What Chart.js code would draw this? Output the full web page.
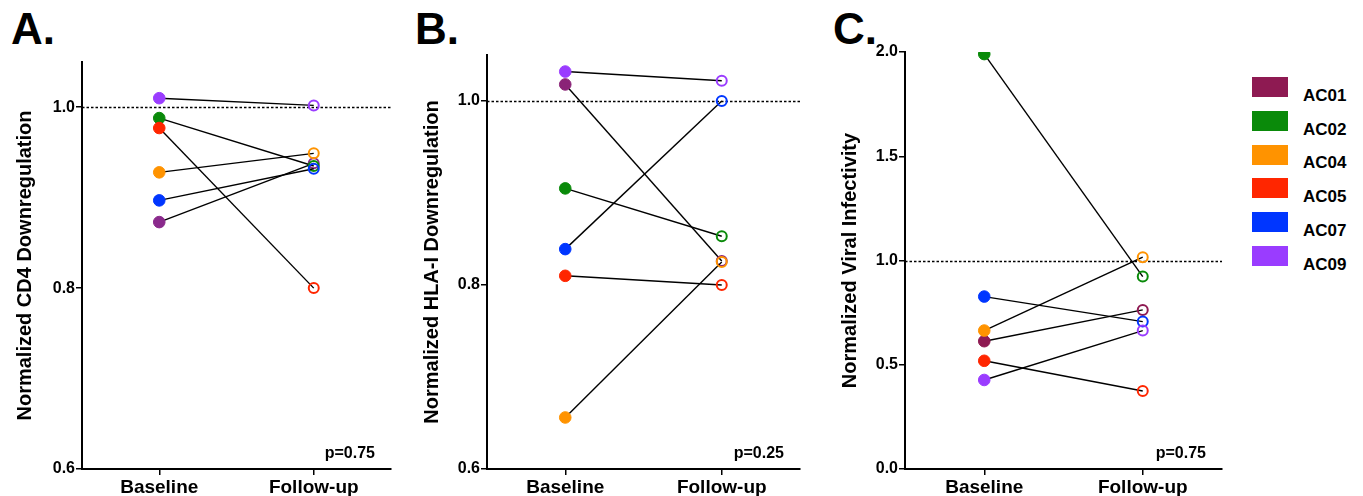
<!DOCTYPE html>
<html lang="en">
<head>
<meta charset="UTF-8">
<title>CD4 / HLA-I downregulation and viral infectivity</title>
<script src="https://cdn.jsdelivr.net/npm/chart.js"></script>
<style>
html,body{margin:0;padding:0;background:#fff;}
body{width:1363px;height:496px;position:relative;overflow:hidden;
     font-family:'Liberation Sans',Arial,Helvetica,sans-serif;color:#000;}
canvas{position:absolute;top:0;}
.tag{position:absolute;top:7px;font-weight:bold;font-size:44px;line-height:44px;}
.lg-box{position:absolute;left:1252px;width:34px;height:18px;}
.lg-txt{position:absolute;left:1303px;font-weight:bold;font-size:17px;line-height:20px;}
</style>
</head>
<body>
<div class="tag" style="left:11px">A.</div>
<div class="tag" style="left:415px">B.</div>
<div class="tag" style="left:833px">C.</div>

<canvas id="cd4"></canvas>
<canvas id="hla"></canvas>
<canvas id="viral"></canvas>
<div id="legend"></div>

<script>
/* ── data ───────────────────────────────────────────── */
const subjects   =["AC01","AC02","AC04","AC05","AC07","AC09"];
const colors     =["#8e1a52","#0a8a0a","#ff9300","#ff2600","#0036ff","#9a3cff"];
const timepoints =["Baseline","Follow-up"];

const cd4Baseline  =[0.873,0.988,0.928,0.977,0.897,1.010];
const cd4FollowUp  =[0.938,0.935,0.949,0.800,0.932,1.002];
const hlaBaseline  =[1.018,0.905,0.656,0.810,0.839,1.032];
const hlaFollowUp  =[0.826,0.853,0.825,0.800,1.000,1.022];
const viralBaseline=[0.613,1.990,0.664,0.519,0.827,0.427];
const viralFollowUp=[0.763,0.923,1.016,0.374,0.707,0.664];

const cd4Ticks  =[0.6,0.8,1.0];
const hlaTicks  =[0.6,0.8,1.0];
const viralTicks=[0.0,0.5,1.0,1.5,2.0];

const refValue=1.0;
const pValues=["p=0.75","p=0.25","p=0.75"];

/* AC01 was printed in a slightly different shade in each panel */
const shadesA=["#8a2a8c",...colors.slice(1)];
const shadesB=["#8a2377",...colors.slice(1)];
const shadesC=colors;

/* ── plugins ────────────────────────────────────────── */
const FONT="'Liberation Sans', Arial, Helvetica, sans-serif";
Chart.defaults.font.family=FONT;
Chart.defaults.font.weight="bold";
Chart.defaults.color="#000";
Chart.defaults.animation=false;

const refLine={id:"refLine",
  beforeDatasetsDraw(chart){
    const {ctx,chartArea:a,scales:{y}}=chart;
    const py=Math.round(y.getPixelForValue(refValue))+0.5;
    ctx.save();
    ctx.setLineDash([2.5,2]);
    ctx.lineWidth=1.5;ctx.strokeStyle="#000";
    ctx.beginPath();ctx.moveTo(a.left,py);ctx.lineTo(a.right,py);ctx.stroke();
    ctx.restore();
  }};

const pLabel={id:"pLabel",
  afterDraw(chart,args,opts){
    const {ctx,chartArea:a}=chart;
    ctx.save();
    ctx.font="bold 16px "+FONT;
    ctx.fillStyle="#000";ctx.textAlign="right";ctx.textBaseline="middle";
    ctx.fillText(opts.text,a.right-16,a.bottom-15);
    ctx.restore();
  }};

/* ── panels ─────────────────────────────────────────── */
function panel(id,base,follow,shades,yMin,yMax,yTicks,title,p,box){
  const cv=document.getElementById(id);
  cv.width=box.w;cv.height=496;cv.style.left=box.x+"px";

  const datasets=subjects.map((s,i)=>({
    label:s,
    data:[base[i],follow[i]],
    borderColor:"#000",borderWidth:1.4,
    pointRadius:[5.8,5],pointHoverRadius:[5.8,5],
    pointBorderWidth:[1,2],
    pointBackgroundColor:[shades[i],"rgba(0,0,0,0)"],
    pointBorderColor:shades[i],
    order:subjects.length-i
  }));

  const axisGrid={display:true,drawOnChartArea:false,drawTicks:true,tickLength:6,color:"#000",lineWidth:1.5};
  const axisBorder={display:true,color:"#000",width:2};

  return new Chart(cv,{
    type:"line",
    data:{labels:timepoints,datasets},
    plugins:[refLine,pLabel],
    options:{
      responsive:false,
      layout:{padding:{left:box.pl,top:box.top,right:box.pr,bottom:0}},
      plugins:{legend:{display:false},tooltip:{enabled:false},pLabel:{text:p}},
      scales:{
        x:{type:"category",offset:true,
           border:axisBorder,grid:axisGrid,
           ticks:{color:"#000",font:{size:19,weight:"bold"},padding:1,maxRotation:0,autoSkip:false},
           afterFit:s=>{s.height=27;}},
        y:{min:yMin,max:yMax,
           border:axisBorder,grid:axisGrid,
           ticks:{color:"#000",font:{size:16,weight:"bold"},padding:1,callback:v=>Number(v).toFixed(1)},
           afterBuildTicks:s=>{s.ticks=yTicks.map(v=>({value:v}));},
           afterFit:s=>{s.width=box.yw;},
           title:{display:true,text:title,color:"#000",font:{size:20,weight:"bold"},padding:0}}
      }
    }
  });
}

panel("cd4",cd4Baseline,cd4FollowUp,shadesA,0.6,1.05,cd4Ticks,
      "Normalized CD4 Downregulation",pValues[0],{x:0,w:400,pl:13,yw:69,top:62,pr:9});
panel("hla",hlaBaseline,hlaFollowUp,shadesB,0.6,1.05,hlaTicks,
      "Normalized HLA-I Downregulation",pValues[1],{x:400,w:410,pl:20,yw:67,top:55,pr:10});
panel("viral",viralBaseline,viralFollowUp,shadesC,0,2.0,viralTicks,
      "Normalized Viral Infectivity",pValues[2],{x:820,w:415,pl:18,yw:67,top:52,pr:13});

/* ── legend ─────────────────────────────────────────── */
const lg=document.getElementById("legend");
subjects.forEach((s,i)=>{
  const top=77+i*33.8;
  const b=document.createElement("div");
  b.className="lg-box";b.style.top=top+"px";
  b.style.background=colors[i];b.style.border="1px solid "+colors[i]+"99";
  const t=document.createElement("div");
  t.className="lg-txt";t.style.top=(top+8.7)+"px";t.textContent=s;
  lg.appendChild(b);lg.appendChild(t);
});
</script>
</body>
</html>
